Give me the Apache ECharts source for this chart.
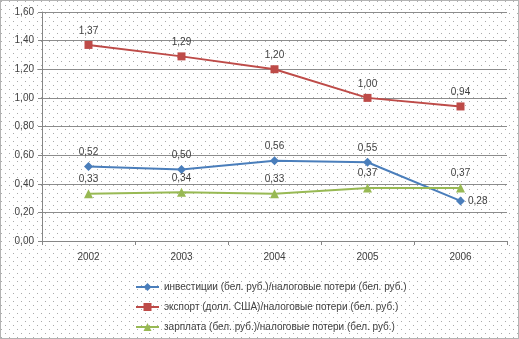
<!DOCTYPE html>
<html><head><meta charset="utf-8">
<script src="https://cdn.jsdelivr.net/npm/echarts@6/dist/echarts.min.js"></script>
<style>html,body{margin:0;padding:0;background:#fff}#c{width:519px;height:339px}</style>
</head><body><div id="c"></div>
<script>
var categories = ['2002','2003','2004','2005','2006'];
var investNames = 'инвестиции (бел. руб.)/налоговые потери (бел. руб.)';
var exportName = 'экспорт (долл. США)/налоговые потери (бел. руб.)';
var salaryName = 'зарплата (бел. руб.)/налоговые потери (бел. руб.)';
var investValues = [0.52, 0.50, 0.56, 0.55, 0.28];
var exportValues = [1.37, 1.29, 1.20, 1.00, 0.94];
var salaryValues = [0.33, 0.34, 0.33, 0.37, 0.37];
var yTicks = {min: 0, max: 1.6, interval: 0.2};

var pc = document.createElement('canvas');
pc.width = 8; pc.height = 8;
var g = pc.getContext('2d');
g.fillStyle = '#aaaaaa';
g.fillRect(1,1,1,1);
g.fillRect(5,5,1,1);

function fmt(v){ return v.toFixed(2).replace('.', ','); }
var font = 'Liberation Sans';
var txt = '#404040';
var fs = 10;

var chart = echarts.init(document.getElementById('c'), null, {renderer:'canvas'});
chart.setOption({
  animation: false,
  backgroundColor: '#fff',
  textStyle: {fontFamily: font},
  graphic: [
    {type:'rect', z:-10, silent:true, shape:{x:0,y:0,width:519,height:339},
     style:{fill:{image:pc, repeat:'repeat'}}},
    {type:'rect', z:100, silent:true, shape:{x:0.5,y:0.5,width:518,height:338},
     style:{fill:null, stroke:'#666', lineWidth:1, lineDash:[1,1]}}
  ],
  grid: {left: 42, right: 12, top: 12, bottom: 98},
  legend: {
    orient: 'vertical', left: 130, top: 277, itemWidth: 23, itemHeight: 10, itemGap: 10,
    textStyle: {fontSize: fs, color: txt, fontFamily: font},
    data: [investNames, exportName, salaryName]
  },
  xAxis: {
    type: 'category', data: categories, boundaryGap: true,
    axisLine: {lineStyle: {color: '#868686'}},
    axisTick: {show: true, length: 4, lineStyle: {color: '#868686'}},
    axisLabel: {fontSize: fs, color: txt, margin: 11, fontFamily: font}
  },
  yAxis: {
    type: 'value', min: yTicks.min, max: yTicks.max, interval: yTicks.interval,
    axisLine: {show: true, lineStyle: {color: '#868686'}},
    axisTick: {show: true, length: 4, lineStyle: {color: '#868686'}},
    splitLine: {lineStyle: {color: '#8c8c8c'}},
    axisLabel: {fontSize: fs, color: txt, margin: 8, fontFamily: font, formatter: fmt}
  },
  series: [
    {name: investNames, type: 'line', symbol: 'diamond', symbolSize: 9,
     data: investValues.map(function(v,i){
       return i === 4 ? {value: v, label: {position: 'right', distance: 3}} : v;
     }),
     lineStyle: {color: '#4A7EBB', width: 2}, itemStyle: {color: '#4A7EBB'},
     label: {show: true, position: 'top', distance: 5, fontSize: fs, color: txt, fontFamily: font, formatter: function(p){return fmt(p.value);}},
     emphasis: {disabled: true}},
    {name: exportName, type: 'line', data: exportValues, symbol: 'rect', symbolSize: 8,
     lineStyle: {color: '#BE4B48', width: 2}, itemStyle: {color: '#BE4B48'},
     label: {show: true, position: 'top', distance: 5, fontSize: fs, color: txt, fontFamily: font, formatter: function(p){return fmt(p.value);}},
     emphasis: {disabled: true}},
    {name: salaryName, type: 'line', data: salaryValues, symbol: 'triangle', symbolSize: 9,
     lineStyle: {color: '#98B954', width: 2}, itemStyle: {color: '#98B954'},
     label: {show: true, position: 'top', distance: 5, fontSize: fs, color: txt, fontFamily: font, formatter: function(p){return fmt(p.value);}},
     emphasis: {disabled: true}}
  ]
});
</script></body></html>
